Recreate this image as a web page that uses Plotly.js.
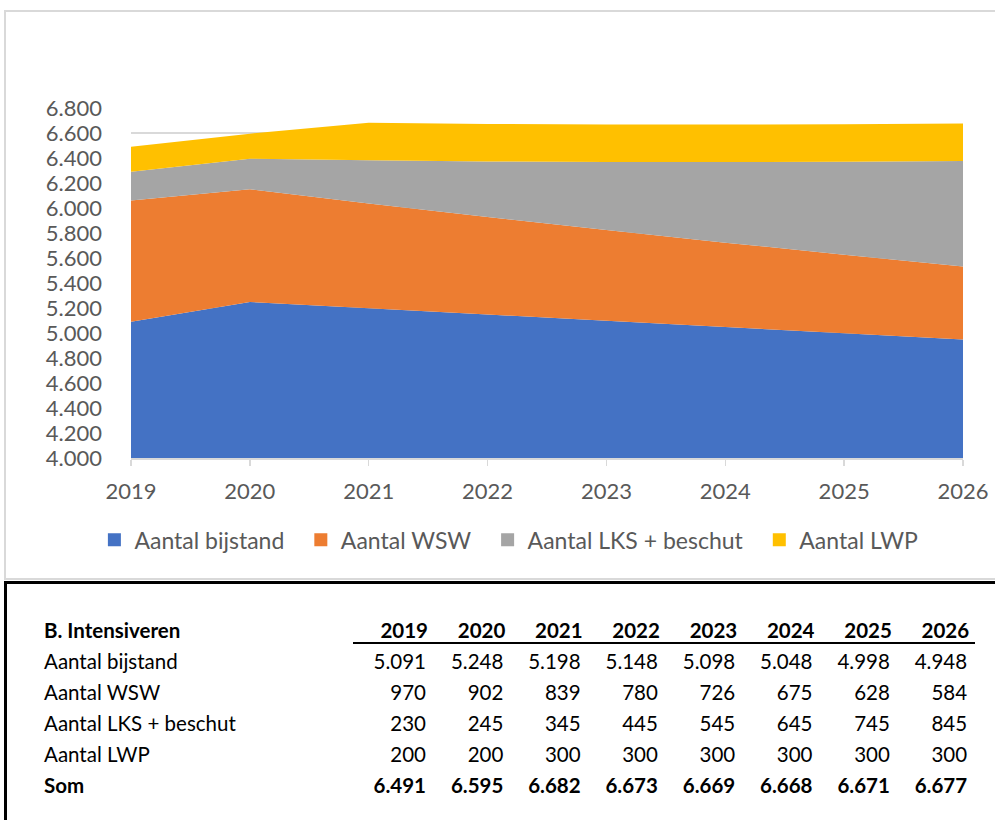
<!DOCTYPE html>
<html>
<head>
<meta charset="utf-8">
<script src="https://cdn.plot.ly/plotly-3.0.1.min.js"></script>
<style>
  html, body { margin: 0; padding: 0; background: #ffffff; width: 995px; height: 820px; overflow: hidden; }
  #chart { position: absolute; left: 0; top: 0; width: 995px; height: 578px; }
  #chartbox { position: absolute; left: 4px; top: 10px; width: 1010px; height: 570px; border: 2px solid #d9d9d9; box-sizing: border-box; pointer-events: none; }
  #tablebox { position: absolute; left: 4px; top: 581px; width: 1010px; height: 260px; border-left: 3px solid #000; border-top: 3px solid #000; box-sizing: border-box; }
  .cell { position: absolute; font-family: Lato, "Open Sans", sans-serif; font-size: 20.5px; color: #000; white-space: nowrap; line-height: 24px; height: 24px; }
  .bold { font-weight: bold; }
  #hline { position: absolute; left: 353px; top: 642px; width: 622px; height: 2px; background: #000; }
</style>
</head>
<body>
<div id="chart"></div>
<div id="chartbox"></div>
<div id="tablebox"></div>
<div id="hline"></div>
<div id="table"></div>
<script>
// ---- data ----
const years = [2019, 2020, 2021, 2022, 2023, 2024, 2025, 2026];
const seriesNames = ["Aantal bijstand", "Aantal WSW", "Aantal LKS + beschut", "Aantal LWP"];
const bijstand = [5091, 5248, 5198, 5148, 5098, 5048, 4998, 4948];
const wsw      = [970, 902, 839, 780, 726, 675, 628, 584];
const lks      = [230, 245, 345, 445, 545, 645, 745, 845];
const lwp      = [200, 200, 300, 300, 300, 300, 300, 300];
const som      = [6491, 6595, 6682, 6673, 6669, 6668, 6671, 6677];
const tableTitle = "B. Intensiveren";
const sumLabel = "Som";

const colors = ["#4472C4", "#ED7D31", "#A5A5A5", "#FFC000"];
const seriesValues = [bijstand, wsw, lks, lwp];

const traces = [];
seriesValues.forEach((vals, i) => {
  traces.push({
    type: "scatter",
    x: years,
    y: vals,
    name: seriesNames[i],
    stackgroup: "one",
    mode: "none",
    fillcolor: colors[i],
    line: { width: 0 },
    showlegend: false,
    hoverinfo: "skip"
  });
});
// legend entries (square markers); en space pads the gap between entries
seriesNames.forEach((n, i) => {
  traces.push({
    type: "scatter",
    x: [null],
    y: [null],
    name: n + "\u2002",
    mode: "markers",
    marker: { symbol: "square", size: 13, color: colors[i] },
    showlegend: true,
    hoverinfo: "skip"
  });
});

const tickFont = { family: "Lato, 'Open Sans', sans-serif", size: 22, color: "#595959" };
const legendFont = { family: "Lato, 'Open Sans', sans-serif", size: 23, color: "#595959" };

const layout = {
  width: 995,
  height: 578,
  margin: { l: 131, r: 32, t: 108, b: 120 },
  paper_bgcolor: "rgba(0,0,0,0)",
  plot_bgcolor: "rgba(0,0,0,0)",
  separators: ",.",
  showlegend: true,
  hovermode: false,
  font: tickFont,
  xaxis: {
    range: [2019, 2026],
    tickmode: "array",
    tickvals: years,
    ticktext: years.map(String),
    showgrid: false,
    zeroline: false,
    showline: true,
    linecolor: "#d9d9d9",
    linewidth: 1.5,
    ticks: "outside",
    ticklen: 6,
    tickcolor: "#d9d9d9",
    tickwidth: 1.5,
    ticklabelstandoff: 7,
    tickfont: tickFont
  },
  yaxis: {
    range: [4000, 6800],
    dtick: 200,
    tick0: 4000,
    tickformat: ",.0f",
    showgrid: true,
    gridcolor: "#d9d9d9",
    gridwidth: 1.5,
    zeroline: false,
    showline: false,
    ticks: "",
    ticklabelstandoff: 28,
    tickfont: tickFont
  },
  legend: {
    orientation: "h",
    x: -0.044,
    xanchor: "left",
    y: -0.234,
    yanchor: "middle",
    font: legendFont,
    bgcolor: "rgba(0,0,0,0)",
    itemwidth: 30,
    traceorder: "normal"
  }
};

Plotly.newPlot("chart", traces, layout, { displayModeBar: false, staticPlot: true });

// ---- table ----
function fmt(v) {
  return String(v).replace(/\B(?=(\d{3})+(?!\d))/g, ".");
}
const tableEl = document.getElementById("table");
const colRight = years.map((y, i) => 428 + i * 77.3);
const rowCenters = [630, 661, 692, 723, 754, 785];
function addCell(text, x, yc, align, bold) {
  const d = document.createElement("div");
  d.className = "cell" + (bold ? " bold" : "");
  d.textContent = text;
  d.style.top = (yc - 12) + "px";
  if (align === "left") {
    d.style.left = x + "px";
  } else {
    d.style.right = (995 - x) + "px";
  }
  tableEl.appendChild(d);
}
addCell(tableTitle, 44, rowCenters[0], "left", true);
years.forEach((y, i) => addCell(String(y), colRight[i], rowCenters[0], "right", true));
seriesValues.forEach((vals, r) => {
  addCell(seriesNames[r], 44, rowCenters[r + 1], "left", false);
  vals.forEach((v, i) => addCell(fmt(v), colRight[i] - 2, rowCenters[r + 1], "right", false));
});
addCell(sumLabel, 44, rowCenters[5], "left", true);
som.forEach((v, i) => addCell(fmt(v), colRight[i] - 2, rowCenters[5], "right", true));
</script>
</body>
</html>
